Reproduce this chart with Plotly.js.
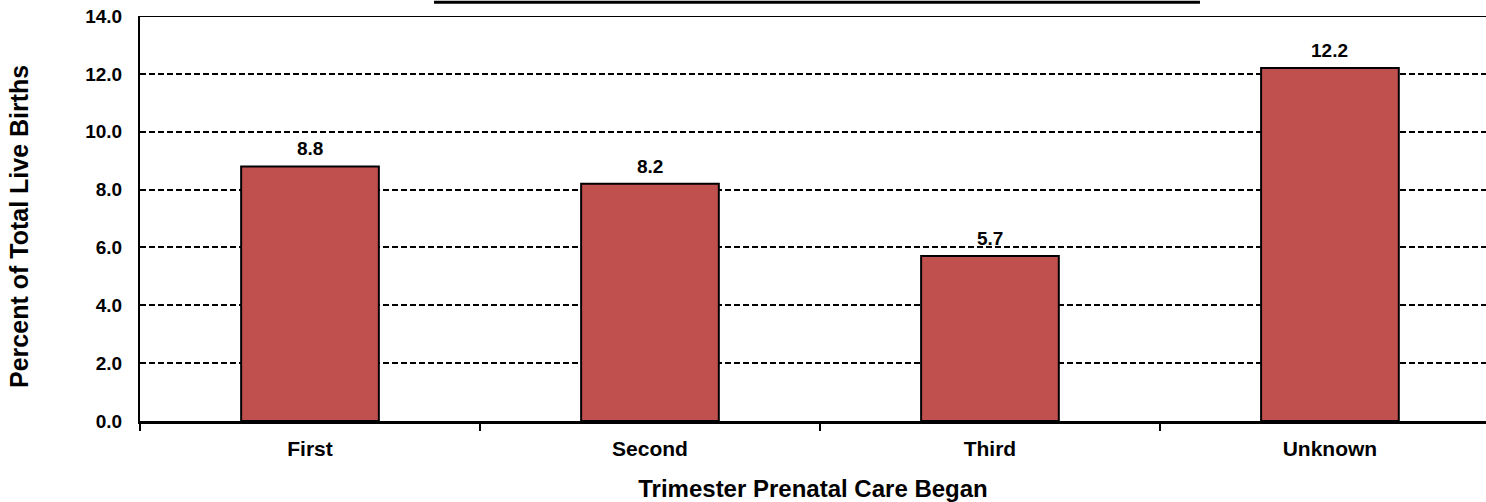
<!DOCTYPE html>
<html>
<head>
<meta charset="utf-8">
<script src="https://cdn.plot.ly/plotly-3.0.1.min.js"></script>
<style>html,body{margin:0;padding:0;background:#fff;}#chart{width:1486px;height:502px;}</style>
</head>
<body>
<div id="chart"></div>
<script>
var categories = ["First", "Second", "Third", "Unknown"];
var values = [8.8, 8.2, 5.7, 12.2];
var yTicks = [0, 2, 4, 6, 8, 10, 12, 14];
var yTickLabels = ["0.0", "2.0", "4.0", "6.0", "8.0", "10.0", "12.0", "14.0"];
var xTitle = "Trimester Prenatal Care Began";
var yTitle = "Percent of Total Live Births";

var font = "Liberation Sans, Arial, sans-serif";
var trace = {
  type: "bar",
  x: categories,
  y: values,
  marker: {color: "#C0504D", line: {color: "#000", width: 2}},
  width: 0.405,
  hoverinfo: "none"
};
var annotations = categories.map(function(c, i){
  return {x: c, y: values[i], xref: "x", yref: "y", text: values[i].toFixed(1),
    showarrow: false, yanchor: "bottom", yshift: 5,
    font: {family: font, size: 19, color: "#000", weight: "bold"}};
});
annotations.push({
  text: yTitle, xref: "paper", yref: "paper", x: -0.0899, y: 0.4815,
  xanchor: "center", yanchor: "middle", textangle: -90, showarrow: false,
  font: {family: font, size: 25, color: "#000", weight: "bold"}
});
var layout = {
  width: 1486, height: 502,
  margin: {l: 140, r: 0, t: 16, b: 81},
  paper_bgcolor: "#fff", plot_bgcolor: "#fff",
  showlegend: false,
  font: {family: font, color: "#000"},
  xaxis: {
    type: "category",
    range: [-0.5, 3.459],
    showline: true, linecolor: "#000", linewidth: 3,
    ticks: "outside", tickson: "boundaries", ticklen: 7, tickwidth: 2, tickcolor: "#000",
    ticklabelstandoff: 7,
    showgrid: false, zeroline: false,
    tickfont: {family: font, size: 21, color: "#000", weight: "bold"},
    title: {text: xTitle, font: {family: font, size: 24, color: "#000", weight: "bold"}, standoff: 21}
  },
  yaxis: {
    range: [0, 14],
    tickvals: yTicks, ticktext: yTickLabels,
    showline: true, linecolor: "#000", linewidth: 2,
    ticks: "", ticklabelstandoff: 12,
    showgrid: true, gridcolor: "#000", gridwidth: 2, griddash: "6px,3px",
    zeroline: false,
    tickfont: {family: font, size: 19, color: "#000", weight: "bold"}
  },
  annotations: annotations,
  shapes: [
    {type: "line", xref: "paper", yref: "y", x0: 0, x1: 1, y0: 14, y1: 14, line: {color: "#000", width: 2}},
    {type: "line", xref: "paper", yref: "paper", x0: 0.2184, x1: 0.7875, y0: 1.034, y1: 1.034, line: {color: "#000", width: 3}}
  ]
};
Plotly.newPlot("chart", [trace], layout, {displayModeBar: false, staticPlot: true});
</script>
</body>
</html>
